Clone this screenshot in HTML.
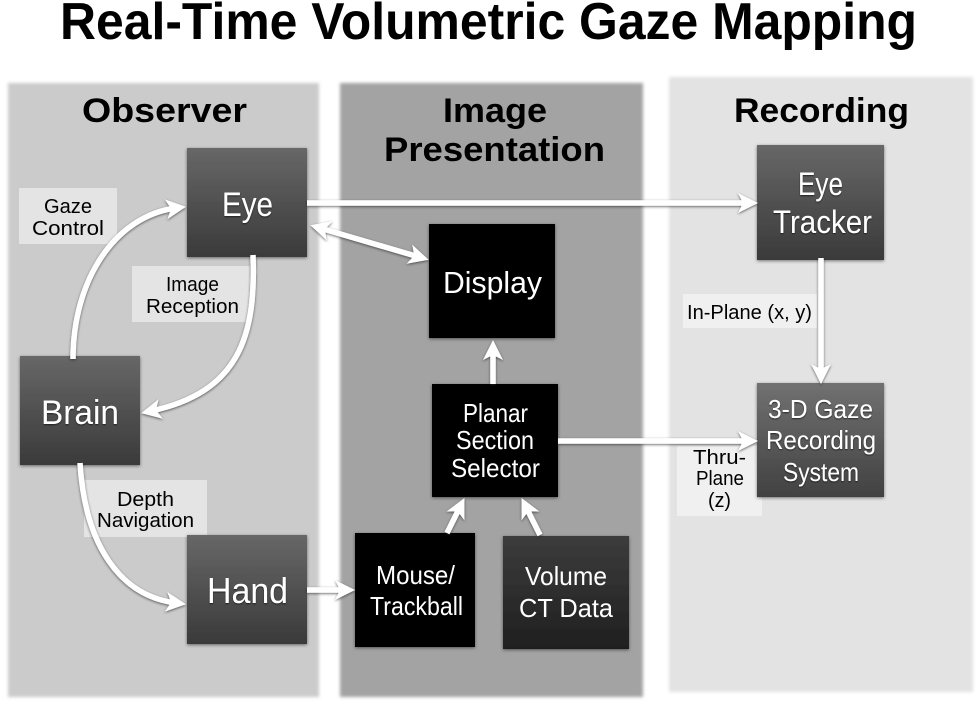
<!DOCTYPE html>
<html>
<head>
<meta charset="utf-8">
<style>
html,body{margin:0;padding:0;background:#fff;width:978px;height:706px;overflow:hidden}
svg{display:block}
text{font-family:"Liberation Sans",sans-serif}
</style>
</head>
<body>
<svg width="978" height="706" viewBox="0 0 978 706" xmlns="http://www.w3.org/2000/svg">
<defs>
<linearGradient id="g1" x1="0" y1="0" x2="0" y2="1"><stop offset="0" stop-color="#676767"/><stop offset="1" stop-color="#3a3a3a"/></linearGradient>
<linearGradient id="g2" x1="0" y1="0" x2="0" y2="1"><stop offset="0" stop-color="#3c3c3c"/><stop offset="1" stop-color="#1f1f1f"/></linearGradient>
<linearGradient id="g3" x1="0" y1="0" x2="0" y2="1"><stop offset="0" stop-color="#717171"/><stop offset="1" stop-color="#414141"/></linearGradient>
<filter id="panel" x="-5%" y="-5%" width="110%" height="110%"><feGaussianBlur stdDeviation="1.5"/></filter>
<filter id="box" x="-10%" y="-10%" width="120%" height="120%"><feDropShadow dx="0" dy="1" stdDeviation="1.5" flood-color="#000" flood-opacity=".5"/></filter>
<filter id="arr" x="-20%" y="-20%" width="140%" height="140%"><feDropShadow dx="0" dy="1" stdDeviation="1.2" flood-color="#222" flood-opacity=".7"/></filter>
<filter id="txt" x="-10%" y="-20%" width="120%" height="140%"><feDropShadow dx="0" dy="1" stdDeviation=".8" flood-color="#000" flood-opacity=".6"/></filter>
<marker id="ah" markerUnits="userSpaceOnUse" markerWidth="40" markerHeight="26" viewBox="-20 -13 40 26" refX="0" refY="0" orient="auto-start-reverse">
<path d="M10,0 L-10,-10 L-5,0 L-10,10 Z" fill="#fff"/>
</marker>
</defs>

<!-- title -->
<text x="60" y="39" font-size="52" font-weight="bold" fill="#000" textLength="857" lengthAdjust="spacingAndGlyphs">Real-Time Volumetric Gaze Mapping</text>

<!-- panels -->
<rect x="8" y="83" width="311" height="614" fill="#cbcbcb" filter="url(#panel)"/>
<rect x="340" y="83" width="303" height="614" fill="#a3a3a3" filter="url(#panel)"/>
<rect x="669" y="77" width="304" height="615" fill="#e3e3e3" filter="url(#panel)"/>

<!-- headers -->
<g font-size="34" font-weight="bold" fill="#000">
<text x="82" y="122" textLength="165" lengthAdjust="spacingAndGlyphs">Observer</text>
<text x="443" y="122" textLength="104" lengthAdjust="spacingAndGlyphs">Image</text>
<text x="384" y="161" textLength="221" lengthAdjust="spacingAndGlyphs">Presentation</text>
<text x="734" y="122" textLength="175" lengthAdjust="spacingAndGlyphs">Recording</text>
</g>

<!-- label backgrounds -->
<rect x="19" y="188" width="98" height="56" fill="#e4e4e4"/>
<rect x="132" y="266" width="118" height="56" fill="#e4e4e4"/>
<rect x="84" y="480" width="123" height="57" fill="#e4e4e4"/>
<rect x="683" y="294" width="134" height="34" fill="#f0f0f0"/>
<rect x="677" y="446" width="85" height="70" fill="#f0f0f0"/>

<!-- labels -->
<g font-size="20" fill="#000">
<text x="44" y="213" textLength="48" lengthAdjust="spacingAndGlyphs">Gaze</text>
<text x="32" y="235" textLength="72" lengthAdjust="spacingAndGlyphs">Control</text>
<text x="166" y="291" textLength="53" lengthAdjust="spacingAndGlyphs">Image</text>
<text x="146" y="313" textLength="93" lengthAdjust="spacingAndGlyphs">Reception</text>
<text x="117" y="506" textLength="57" lengthAdjust="spacingAndGlyphs">Depth</text>
<text x="97" y="527" textLength="97" lengthAdjust="spacingAndGlyphs">Navigation</text>
<text x="687" y="319" textLength="125" lengthAdjust="spacingAndGlyphs">In-Plane (x, y)</text>
<text x="693" y="464" textLength="53" lengthAdjust="spacingAndGlyphs">Thru-</text>
<text x="696" y="485" textLength="48" lengthAdjust="spacingAndGlyphs">Plane</text>
<text x="708" y="507" textLength="23" lengthAdjust="spacingAndGlyphs">(z)</text>
</g>

<!-- boxes -->
<g filter="url(#box)">
<rect x="187" y="148" width="120" height="109" fill="url(#g1)"/>
<rect x="20" y="356" width="120" height="109" fill="url(#g1)"/>
<rect x="187" y="535" width="120" height="109" fill="url(#g1)"/>
<rect x="429" y="224" width="126" height="114" fill="#000"/>
<rect x="432" y="384" width="126" height="113" fill="#000"/>
<rect x="355" y="533" width="120" height="114" fill="#000"/>
<rect x="503" y="536" width="126" height="113" fill="url(#g2)"/>
<rect x="757" y="145" width="127" height="115" fill="url(#g1)"/>
<rect x="757" y="383" width="127" height="114" fill="url(#g3)"/>
</g>

<!-- box text -->
<g fill="#fff">
<g filter="url(#txt)">
<text x="222" y="216" font-size="34" textLength="51" lengthAdjust="spacingAndGlyphs">Eye</text>
<text x="41" y="424" font-size="34" textLength="78" lengthAdjust="spacingAndGlyphs">Brain</text>
<text x="207" y="603" font-size="36" textLength="81" lengthAdjust="spacingAndGlyphs">Hand</text>
<text x="798" y="195" font-size="32" textLength="45" lengthAdjust="spacingAndGlyphs">Eye</text>
<text x="773" y="233" font-size="32" textLength="99" lengthAdjust="spacingAndGlyphs">Tracker</text>
<text x="768" y="418" font-size="26" textLength="105" lengthAdjust="spacingAndGlyphs">3-D Gaze</text>
<text x="766" y="449" font-size="26" textLength="110" lengthAdjust="spacingAndGlyphs">Recording</text>
<text x="783" y="481" font-size="26" textLength="76" lengthAdjust="spacingAndGlyphs">System</text>
</g>
<text x="443" y="293" font-size="31" textLength="99" lengthAdjust="spacingAndGlyphs">Display</text>
<text x="463" y="422" font-size="26" textLength="65" lengthAdjust="spacingAndGlyphs">Planar</text>
<text x="456" y="449" font-size="26" textLength="78" lengthAdjust="spacingAndGlyphs">Section</text>
<text x="451" y="477" font-size="26" textLength="89" lengthAdjust="spacingAndGlyphs">Selector</text>
<text x="376" y="584" font-size="26" textLength="79" lengthAdjust="spacingAndGlyphs">Mouse/</text>
<text x="370" y="615" font-size="26" textLength="93" lengthAdjust="spacingAndGlyphs">Trackball</text>
<text x="525" y="585" font-size="26" textLength="82" lengthAdjust="spacingAndGlyphs">Volume</text>
<text x="519" y="617" font-size="26" textLength="94" lengthAdjust="spacingAndGlyphs">CT Data</text>
</g>

<!-- arrows -->
<g fill="none" stroke="#fff" stroke-width="5.5" filter="url(#arr)">
<path d="M73,359 C73,280 115,216 176,208" marker-end="url(#ah)"/>
<path d="M253,255 C256,335 240,392 151,411" marker-end="url(#ah)"/>
<path d="M80,463 C85,545 120,596 176,603" marker-end="url(#ah)"/>
<path d="M307,590 L345,590" marker-end="url(#ah)"/>
<path d="M307,203 L748,203" marker-end="url(#ah)"/>
<path d="M320,228 L419,257" marker-start="url(#ah)" marker-end="url(#ah)"/>
<path d="M493,384 L493,350" marker-end="url(#ah)"/>
<path d="M447,533 L460,507" marker-end="url(#ah)"/>
<path d="M540,535 L526,507" marker-end="url(#ah)"/>
<path d="M558,441 L748,441" marker-end="url(#ah)"/>
<path d="M821,258 L821,374" marker-end="url(#ah)"/>
</g>
</svg>
</body>
</html>
